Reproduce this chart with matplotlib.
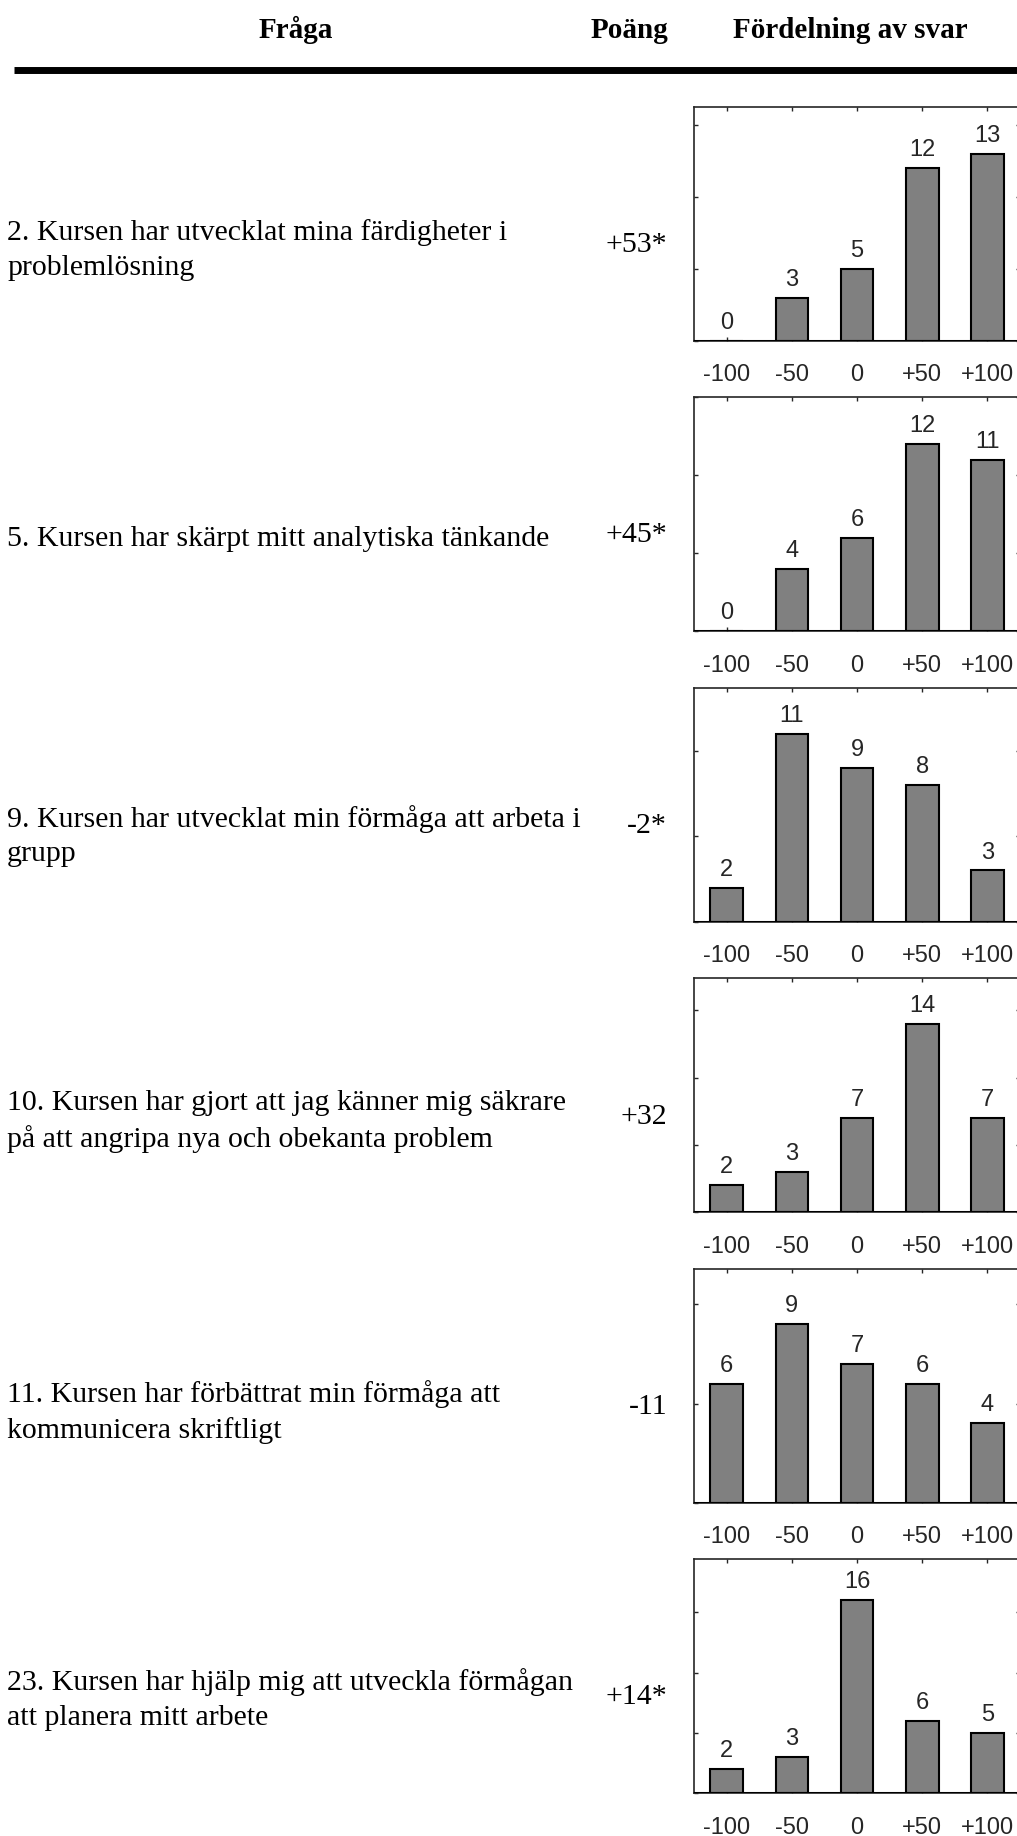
import matplotlib
matplotlib.use("Agg")
from matplotlib import pyplot as plt
from matplotlib.ticker import MultipleLocator

W, H = 1017, 1836

headers = ["Fråga", "Poäng", "Fördelning av svar"]
questions = [
    "2. Kursen har utvecklat mina färdigheter i\nproblemlösning",
    "5. Kursen har skärpt mitt analytiska tänkande",
    "9. Kursen har utvecklat min förmåga att arbeta i\ngrupp",
    "10. Kursen har gjort att jag känner mig säkrare\npå att angripa nya och obekanta problem",
    "11. Kursen har förbättrat min förmåga att\nkommunicera skriftligt",
    "23. Kursen har hjälp mig att utveckla förmågan\natt planera mitt arbete",
]
scores = ["+53*", "+45*", "-2*", "+32", "-11", "+14*"]
answer_labels = ["-100", "-50", "0", "+50", "+100"]
counts = [
    [0, 3, 5, 12, 13],
    [0, 4, 6, 12, 11],
    [2, 11, 9, 8, 3],
    [2, 3, 7, 14, 7],
    [6, 9, 7, 6, 4],
    [2, 3, 16, 6, 5],
]
ymax = [16.3, 15.0, 13.7, 17.4, 11.8, 19.4]

serif = "Liberation Serif"
sans = "Liberation Sans"
dark = "#262626"

fig = plt.figure(figsize=(W / 100, H / 100), dpi=100)

# overlay in pixel coords for the table part
ax0 = fig.add_axes([0, 0, 1, 1])
ax0.set_xlim(0, W)
ax0.set_ylim(H, 0)
ax0.axis("off")

for txt, xc in zip(headers, [296, 629, 850]):
    ax0.text(xc, 30, txt, ha="center", va="center", fontsize=21,
             fontweight="bold", family=serif, color="black")
ax0.plot([14, W], [70, 70], color="black", lw=5, solid_capstyle="butt")

row_h = 290.5
text_shift = [5, 4, 10, 5, 5, 2]
for i in range(6):
    yc = 245 + row_h * i
    ax0.text(7, yc + text_shift[i], questions[i], ha="left", va="center",
             fontsize=21.5, family=serif, color="black", linespacing=1.42)
    ax0.text(667, yc, scores[i], ha="right", va="center",
             fontsize=21.5, family=serif, color="black")

# bar charts
left, right = 694, 1020
box_h = 234
for i in range(6):
    bottom_px = 340.7 + row_h * i
    ax = fig.add_axes([left / W, (H - bottom_px) / H, (right - left) / W, box_h / H])
    bars = ax.bar(range(5), counts[i], width=0.5, color="#808080",
                  edgecolor="black", linewidth=1.5, zorder=2)
    ax.axhline(0, color="black", lw=2.2, zorder=3)
    ax.bar_label(bars, padding=5, fontsize=17, family=sans, color=dark)
    ax.set_xlim(-0.5, 4.5)
    ax.set_ylim(0, ymax[i])
    ax.set_xticks(range(5))
    ax.set_xticklabels(answer_labels, fontsize=17, family=sans, color=dark)
    ax.yaxis.set_major_locator(MultipleLocator(5))
    ax.set_yticklabels([])
    ax.tick_params(direction="in", top=True, right=True, length=3,
                   width=1, color=dark)
    ax.tick_params(axis="x", pad=17)
    for sp in ax.spines.values():
        sp.set_color(dark)
        sp.set_linewidth(1.2)

plt.savefig("out.png", dpi=100)
